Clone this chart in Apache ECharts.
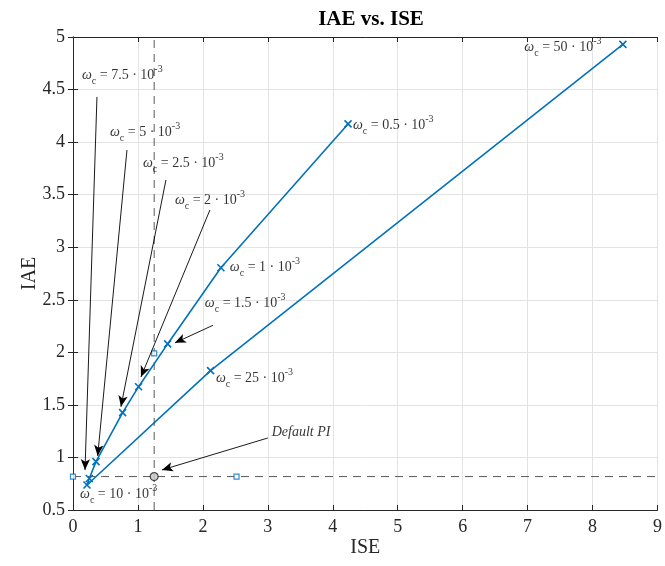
<!DOCTYPE html>
<html>
<head>
<meta charset="utf-8">
<script src="https://cdn.jsdelivr.net/npm/echarts@6/dist/echarts.min.js"></script>
<style>html,body{margin:0;padding:0;background:#fff;}#c{width:665px;height:566px;}</style>
</head>
<body>
<div id="c"></div>
<script>
// ---- data ----
var omegaLabels = ['0.5', '1', '1.5', '2', '2.5', '5', '7.5', '10', '25', '50'];
var iseValues = [4.235, 2.277, 1.457, 1.01, 0.764, 0.354, 0.251, 0.215, 2.118, 8.467];
var iaeValues = [4.173, 2.805, 2.08, 1.673, 1.426, 0.96, 0.80, 0.738, 1.826, 4.93];
var defaultISE = 1.25;
var defaultIAE = 0.818;
var refSquaresX = [0, 2.518, 1.25];
var refSquaresY = [0.818, 0.818, 1.991];
var xTicks = [0, 1, 2, 3, 4, 5, 6, 7, 8, 9];
var yTicks = [0.5, 1, 1.5, 2, 2.5, 3, 3.5, 4, 4.5, 5];
// annotation anchors (data coordinates)
var annoOmega = ['7.5', '5', '2.5', '2', '1.5', '1', '0.5', '25', '50', '10'];
var annoX = [0.138, 0.569, 1.077, 1.569, 2.03, 2.415, 4.31, 2.2, 6.95, 0.108];
var annoY = [4.639, 4.097, 3.80, 3.45, 2.47, 2.81, 4.16, 1.756, 4.90, 0.652];
var arrowFromX = [0.369, 0.831, 1.431, 2.108, 2.154, 3.0];
var arrowFromY = [4.43, 3.925, 3.64, 3.354, 2.257, 1.185];
var arrowToX = [0.185, 0.38, 0.738, 1.046, 1.569, 1.369];
var arrowToY = [0.88, 1.014, 1.483, 1.765, 2.09, 0.881];
var defaultLabel = 'Default PI';
var defaultLabelX = 3.06, defaultLabelY = 1.242;

// ---- chart ----
var FONT = 'Liberation Serif';
var BLUE = '#0072BD';
var AX = '#262626';
var chart = echarts.init(document.getElementById('c'), null, {renderer: 'canvas'});

var curve = iseValues.map(function (x, i) { return [x, iaeValues[i]]; });
var squares = refSquaresX.map(function (x, i) { return [x, refSquaresY[i]]; });
var annoData = annoX.map(function (x, i) { return {value: [x, annoY[i]], name: annoOmega[i]}; });
var arrows = arrowFromX.map(function (x, i) {
  return [{coord: [x, arrowFromY[i]], symbol: 'none'}, {coord: [arrowToX[i], arrowToY[i]], symbol: 'arrow', symbolSize: [7, 11]}];
});

var rich = {
  w: {fontFamily: FONT, fontSize: 14, fontStyle: 'italic', color: '#000', lineHeight: 22, verticalAlign: 'middle'},
  s: {fontFamily: FONT, fontSize: 10, color: '#000', lineHeight: 10, verticalAlign: 'bottom'},
  t: {fontFamily: FONT, fontSize: 14, color: '#000', lineHeight: 22, verticalAlign: 'middle'},
  p: {fontFamily: FONT, fontSize: 10, color: '#000', lineHeight: 10, verticalAlign: 'top'}
};

var xMin = xTicks[0], xMax = xTicks[xTicks.length - 1];
var yMin = yTicks[0], yMax = yTicks[yTicks.length - 1];

var commonAxisLine = {show: true, lineStyle: {color: AX, width: 1}};
var commonTick = {show: true, inside: true, length: 5, lineStyle: {color: AX, width: 1}};

chart.setOption({
  animation: false,
  backgroundColor: '#fff',
  title: {
    text: 'IAE vs. ISE',
    left: 366, top: 4, textAlign: 'center',
    textStyle: {fontFamily: FONT, fontSize: 21, fontWeight: 'bold', color: '#000'}
  },
  grid: {left: 73, right: 7, top: 37, bottom: 56, containLabel: false},
  xAxis: [{
    type: 'value', min: xMin, max: xMax, interval: 1, position: 'bottom',
    name: 'ISE', nameLocation: 'middle', nameGap: 28, nameMoveOverlap: false,
    nameTextStyle: {fontFamily: FONT, fontSize: 20, color: AX},
    axisLine: commonAxisLine, axisTick: commonTick,
    axisLabel: {fontFamily: FONT, fontSize: 18, color: AX, margin: 8},
    splitLine: {show: true, lineStyle: {color: '#e3e3e3', width: 1}}
  }, {
    type: 'value', min: xMin, max: xMax, interval: 1, position: 'top',
    axisLine: commonAxisLine, axisTick: commonTick,
    axisLabel: {show: false}, splitLine: {show: false}
  }],
  yAxis: [{
    type: 'value', min: yMin, max: yMax, interval: 0.5, position: 'left',
    name: 'IAE', nameLocation: 'middle', nameGap: 33, nameMoveOverlap: false,
    nameTextStyle: {fontFamily: FONT, fontSize: 20, color: AX},
    axisLine: commonAxisLine, axisTick: commonTick,
    axisLabel: {fontFamily: FONT, fontSize: 18, color: AX, margin: 8},
    splitLine: {show: true, lineStyle: {color: '#e3e3e3', width: 1}}
  }, {
    type: 'value', min: yMin, max: yMax, interval: 0.5, position: 'right',
    axisLine: commonAxisLine, axisTick: commonTick,
    axisLabel: {show: false}, splitLine: {show: false}
  }],
  series: [
    {
      type: 'line', name: 'vline', data: [[defaultISE, yMin], [defaultISE, yMax]],
      symbol: 'none', lineStyle: {color: '#5a5a5a', width: 1, type: [8, 6]}, silent: true, z: 1
    },
    {
      type: 'line', name: 'hline', data: [[xMin, defaultIAE], [xMax, defaultIAE]],
      symbol: 'none', lineStyle: {color: '#5a5a5a', width: 1, type: [8, 6]}, silent: true, z: 1
    },
    {
      type: 'line', name: 'curve', data: curve,
      symbol: 'path://M0,0L10,10M10,0L0,10', symbolSize: 7, showAllSymbol: true,
      lineStyle: {color: BLUE, width: 1.6},
      itemStyle: {color: BLUE, borderColor: BLUE, borderWidth: 1.6},
      z: 3
    },
    {
      type: 'scatter', name: 'squares', data: squares, symbol: 'rect', symbolSize: 5,
      itemStyle: {color: '#fff', borderColor: BLUE, borderWidth: 1.2}, z: 4
    },
    {
      type: 'scatter', name: 'default', data: [[defaultISE, defaultIAE]], symbol: 'circle', symbolSize: 8,
      itemStyle: {color: '#c8c8c8', borderColor: '#222', borderWidth: 1.2}, z: 4
    },
    {
      type: 'scatter', name: 'annotations', data: annoData, symbolSize: 0, silent: true, z: 5,
      label: {
        show: true, position: 'right', distance: 0,
        formatter: function (p) { return '{w|ω}{s|c}{t| = ' + p.name + ' · 10}{p|-3}'; },
        rich: rich
      },
      markLine: {
        silent: true, symbol: ['none', 'arrow'], symbolSize: 10, precision: 4,
        lineStyle: {color: '#000', width: 0.9, type: 'solid'},
        itemStyle: {color: '#000'},
        label: {show: false},
        data: arrows
      }
    },
    {
      type: 'scatter', name: 'defaultLabel', data: [{value: [defaultLabelX, defaultLabelY], name: defaultLabel}],
      symbolSize: 0, silent: true, z: 5,
      label: {
        show: true, position: 'right', distance: 0,
        formatter: function (p) { return p.name; },
        fontFamily: FONT, fontSize: 14, fontStyle: 'italic', color: '#000'
      }
    }
  ]
});
</script>
</body>
</html>
